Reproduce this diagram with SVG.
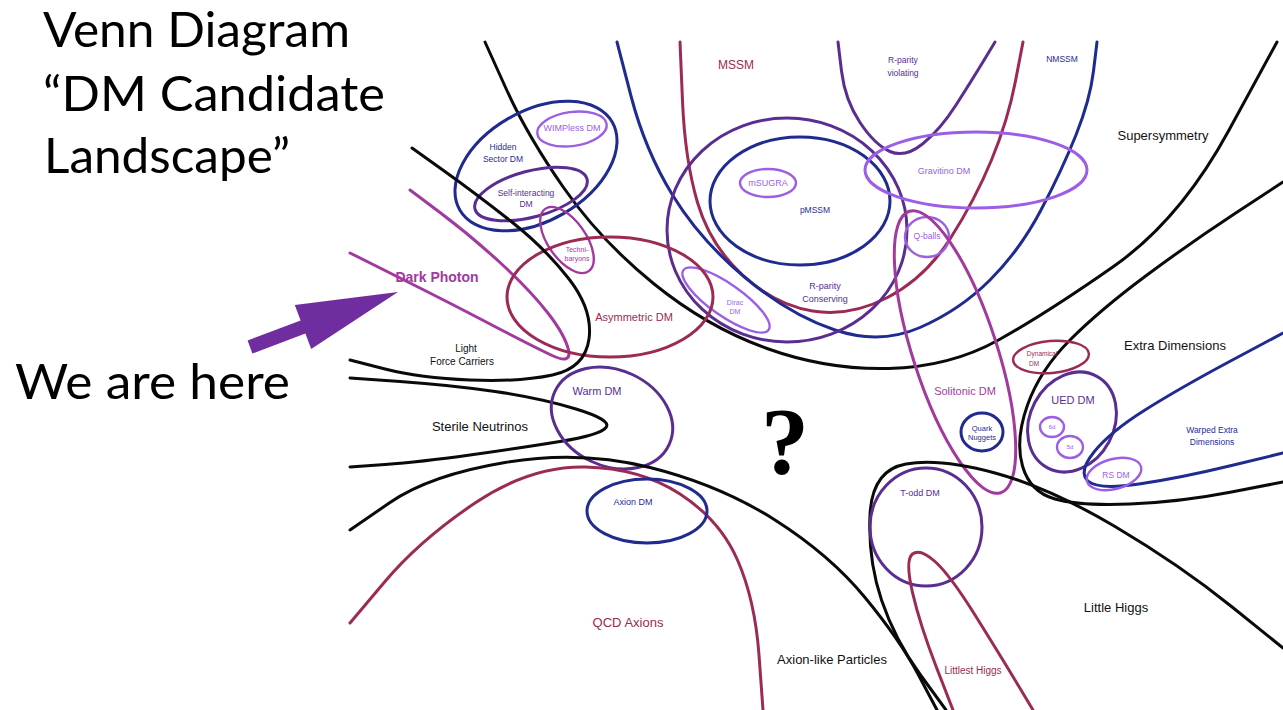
<svg xmlns="http://www.w3.org/2000/svg" width="1283" height="710" viewBox="0 0 1283 710">
<style>
.c{fill:none;stroke-width:3;stroke-linecap:round;stroke-linejoin:round}
.sm{stroke-width:2.4}
.k{stroke:#0a0a0a}.nv{stroke:#1f2b8f}.pu{stroke:#5a2d91}.lp{stroke:#9d5ee6}.mr{stroke:#9b2a55}.mg{stroke:#a2399c}
text{font-family:"Liberation Sans",Arial,sans-serif;text-anchor:middle}
.tk{fill:#111}.tnv{fill:#1f2b8f}.tpu{fill:#5a2d91}.tlp{fill:#9d5ee6}.tmr{fill:#9b2a55}.tmg{fill:#a2399c}
.big{font-family:Lato,"Liberation Sans",sans-serif;font-size:49px;fill:#000;text-anchor:start}
.q{font-family:"Liberation Serif","Times New Roman",serif;font-size:96px;font-weight:bold;fill:#000}
</style>
<rect width="1283" height="710" fill="#fff"/>

<g id="title">
<text class="big" x="43" y="47" textLength="307" lengthAdjust="spacingAndGlyphs">Venn Diagram</text>
<text class="big" x="43" y="111" textLength="342" lengthAdjust="spacingAndGlyphs">“DM Candidate</text>
<text class="big" x="44" y="173" textLength="246" lengthAdjust="spacingAndGlyphs">Landscape”</text>
<text class="big" x="15" y="399" textLength="275" lengthAdjust="spacingAndGlyphs">We are here</text>
</g>

<g id="supersymmetry">
<path class="c k" d="M485,42 L506,88.5 Q527,135 563.5,187.5 Q600,240 653.5,283.5 Q707,327 767,348.5 Q827,370 888.5,368.5 Q950,367 998.5,340 Q1047,313 1113.5,266.5 Q1180,220 1228.5,131 L1277,42"/>
<text class="tk" x="1163" y="139.5" font-size="13">Supersymmetry</text>
</g>
<g id="mssm">
<path class="c mr" d="M680,42 L682.5,101 Q685,160 697.5,202.5 Q710,245 742.5,275 Q775,305 812.5,311 Q850,317 887.5,297.5 Q925,278 950,239 Q975,200 991.5,160 Q1008,120 1015.5,81 L1023,42"/>
<text class="tmr" x="736" y="69" font-size="12">MSSM</text>
</g>
<g id="nmssm">
<path class="c nv" d="M617,42 L631,96 Q645,150 672.5,195 Q700,240 745,277.5 Q790,315 835,330 Q880,345 920,327.5 Q960,310 990,280 Q1020,250 1041,210 Q1062,170 1076,135 Q1090,100 1093.5,71 L1097,42"/>
<text class="tnv" x="1062" y="62" font-size="8.5">NMSSM</text>
</g>
<g id="rparity-violating">
<path class="c pu" d="M838,42 L841.5,71 Q845,100 860,122.5 Q875,145 890,151.5 Q905,158 922.5,144 Q940,130 956,105 Q972,80 983.5,61 L995,42"/>
<text class="tpu" x="903" y="63" font-size="8.5">R-parity</text>
<text class="tpu" x="903" y="76" font-size="8.5">violating</text>
</g>
<g id="rparity-conserving">
<ellipse class="c pu" cx="787" cy="230" rx="120" ry="112"/>
<text class="tpu" x="825" y="289" font-size="9">R-parity</text>
<text class="tpu" x="825" y="302" font-size="9">Conserving</text>
</g>
<g id="pmssm">
<ellipse class="c nv" cx="800" cy="201" rx="90" ry="64"/>
<text class="tnv" x="815" y="213" font-size="8.5">pMSSM</text>
</g>
<g id="msugra">
<ellipse class="c sm lp" cx="768" cy="183" rx="28" ry="14"/>
<text class="tlp" x="768" y="186" font-size="9">mSUGRA</text>
</g>
<g id="gravitino">
<ellipse class="c lp" cx="976" cy="170" rx="111" ry="38"/>
<text class="tlp" x="944" y="174" font-size="9">Gravitino DM</text>
</g>
<g id="qballs">
<ellipse class="c sm lp" cx="927" cy="237" rx="22" ry="20"/>
<text class="tlp" x="927" y="239" font-size="8.5">Q-balls</text>
</g>
<g id="dirac">
<ellipse class="c sm lp" cx="726" cy="300" rx="52" ry="16" transform="rotate(35 726 300)"/>
<text class="tlp" x="735" y="304.5" font-size="7">Dirac</text>
<text class="tlp" x="735" y="313.5" font-size="7">DM</text>
</g>

<g id="hidden-sector">
<ellipse class="c nv" cx="536" cy="166" rx="88" ry="55" transform="rotate(-30 536 166)"/>
<text class="tnv" x="503" y="150" font-size="8.5">Hidden</text>
<text class="tnv" x="503" y="162" font-size="8.5">Sector DM</text>
</g>
<g id="wimpless">
<ellipse class="c sm lp" cx="572" cy="129" rx="35" ry="17" transform="rotate(-8 572 129)"/>
<text class="tlp" x="572" y="131" font-size="9">WIMPless DM</text>
</g>
<g id="self-interacting">
<ellipse class="c pu" cx="531" cy="194" rx="58" ry="23" transform="rotate(-15 531 194)"/>
<text class="tpu" x="526" y="196" font-size="8.5">Self-interacting</text>
<text class="tpu" x="526" y="207" font-size="8.5">DM</text>
</g>
<g id="technibaryons">
<ellipse class="c sm mg" cx="567" cy="240" rx="38" ry="19" transform="rotate(55 567 240)"/>
<text class="tmg" x="577" y="251.5" font-size="7">Techni-</text>
<text class="tmg" x="577" y="260.5" font-size="7">baryons</text>
</g>
<g id="dark-photon">
<path class="c mg" d="M350,253 L400,278 Q450,303 490,324 Q530,345 551,355 Q572,365 568.5,350 Q565,335 547.5,312.5 Q530,290 500,262.5 Q470,235 440,212.5 L410,190"/>
<text class="tmg" x="437" y="282" font-size="14" font-weight="bold">Dark Photon</text>
</g>
<g id="asymmetric">
<ellipse class="c mr" cx="610" cy="297" rx="103" ry="60"/>
<text class="tmr" x="634" y="321" font-size="11">Asymmetric DM</text>
</g>
<g id="light-force-carriers">
<path class="c k" d="M412,148 L443.5,170.5 Q475,193 510,220.5 Q545,248 569,279 Q593,310 589,339 Q585,368 552.5,375 Q520,382 470,380 Q420,378 385,369 L350,360"/>
<text class="tk" x="466" y="351.5" font-size="10">Light</text>
<text class="tk" x="462" y="364.5" font-size="10">Force Carriers</text>
</g>
<g id="sterile-neutrinos">
<path class="c k" d="M350,378 L400,381.5 Q450,385 495,391.5 Q540,398 576,409 Q612,420 606,427.5 Q600,435 560,441.5 Q520,448 470,455 Q420,462 385,464.5 L350,467"/>
<text class="tk" x="480" y="430.5" font-size="13">Sterile Neutrinos</text>
</g>
<g id="warm">
<ellipse class="c pu" cx="612" cy="418" rx="63" ry="48" transform="rotate(25 612 418)"/>
<text class="tpu" x="597" y="395" font-size="11">Warm DM</text>
</g>
<g id="axion-like">
<path class="c k" d="M350,530 L390,502.5 Q430,475 505,462.5 Q580,450 650,467.5 Q720,485 775,520 Q830,555 865,597.5 Q900,640 918.5,675 L937,710"/>
<text class="tk" x="832" y="663.5" font-size="13">Axion-like Particles</text>
</g>
<g id="qcd-axions">
<path class="c mr" d="M350,623 L385,581.5 Q420,540 475,503 Q530,466 585,467 Q640,468 680,494 Q720,520 737.5,560 Q755,600 759,655 L763,710"/>
<text class="tmr" x="628" y="626.5" font-size="13">QCD Axions</text>
</g>
<g id="axion-dm">
<ellipse class="c nv" cx="647" cy="511" rx="60" ry="32"/>
<text class="tnv" x="633" y="505" font-size="9">Axion DM</text>
</g>

<g id="solitonic">
<ellipse class="c mg" cx="955" cy="352" rx="148" ry="42" transform="rotate(72 955 352)"/>
<text class="tmg" x="965" y="395" font-size="11">Solitonic DM</text>
</g>
<g id="quark-nuggets">
<ellipse class="c nv" cx="982" cy="432" rx="21" ry="19"/>
<text class="tnv" x="982" y="430.5" font-size="7.5">Quark</text>
<text class="tnv" x="982" y="440" font-size="7.5">Nuggets</text>
</g>
<g id="extra-dimensions">
<path class="c k" d="M1283,182 L1236.5,212.5 Q1190,243 1145,276.5 Q1100,310 1070,340 Q1040,370 1027.5,405 Q1015,440 1022.5,466 Q1030,492 1055,499 Q1080,506 1130,504 Q1180,502 1231.5,492 L1283,482"/>
<text class="tk" x="1175" y="349.5" font-size="13">Extra Dimensions</text>
</g>
<g id="dynamical">
<ellipse class="c sm mr" cx="1051" cy="357" rx="38" ry="16" transform="rotate(-5 1051 357)"/>
<text class="tmr" x="1042" y="356" font-size="6.5">Dynamical</text>
<text class="tmr" x="1034" y="366" font-size="6.5">DM</text>
</g>
<g id="ued">
<ellipse class="c pu" cx="1072" cy="422" rx="52" ry="42" transform="rotate(-62 1072 422)"/>
<text class="tpu" x="1073" y="404" font-size="11">UED DM</text>
</g>
<g id="ued-6d">
<ellipse class="c sm lp" cx="1052" cy="427" rx="12" ry="10"/>
<text class="tlp" x="1052" y="429" font-size="6">6d</text>
</g>
<g id="ued-5d">
<ellipse class="c sm lp" cx="1070" cy="447" rx="13" ry="11"/>
<text class="tlp" x="1070" y="449" font-size="6">5d</text>
</g>
<g id="warped">
<path class="c nv" d="M1283,333 L1231.5,360.5 Q1180,388 1145,410 Q1110,432 1094,452 Q1078,472 1088,481 Q1098,490 1139,484 Q1180,478 1231.5,465.5 L1283,453"/>
<text class="tnv" x="1212" y="433" font-size="8.5">Warped Extra</text>
<text class="tnv" x="1212" y="445" font-size="8.5">Dimensions</text>
</g>
<g id="rs-dm">
<ellipse class="c sm lp" cx="1114" cy="474" rx="28" ry="15" transform="rotate(-15 1114 474)"/>
<text class="tlp" x="1116" y="478" font-size="8.5">RS DM</text>
</g>
<g id="little-higgs">
<path class="c k" d="M946,710 L920.5,675 Q895,640 881.5,600 Q868,560 870,515 Q872,470 906,464 Q940,458 995,473 Q1050,488 1115,526.5 Q1180,565 1231.5,606.5 L1283,648"/>
<text class="tk" x="1116" y="611.5" font-size="13">Little Higgs</text>
</g>
<g id="t-odd">
<ellipse class="c pu" cx="926" cy="527" rx="56" ry="59"/>
<text class="tpu" x="920" y="496" font-size="9">T-odd DM</text>
</g>
<g id="littlest-higgs">
<path class="c mr" d="M953,710 L936.5,667.5 Q920,625 912.5,592.5 Q905,560 912.5,554 Q920,548 935,561.5 Q950,575 975,615 Q1000,655 1016.5,682.5 L1033,710"/>
<text class="tmr" x="973" y="673.5" font-size="10">Littlest Higgs</text>
</g>

<g id="unknown">
<text class="q" x="785" y="474">?</text>
</g>

<g id="connectors">
<polygon fill="#6f2da0" points="247.6,340.4 300.6,320.4 294.8,305 398,292 311.2,349 305.4,333.6 252.4,353.6"/>
</g>
</svg>
